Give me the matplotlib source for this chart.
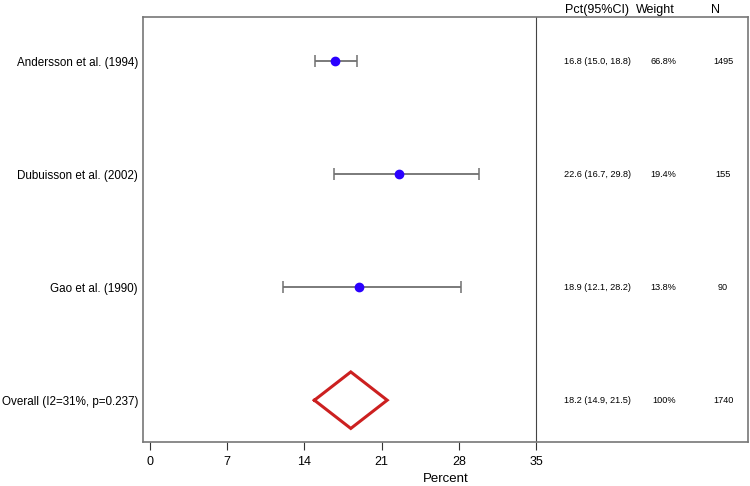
import numpy as np
import matplotlib
matplotlib.use("Agg")
import matplotlib.pyplot as plt
import matplotlib.transforms as mtransforms

plt.rcParams['font.family'] = ['Liberation Sans', 'DejaVu Sans']

# study data
studies = ['Andersson et al. (1994)', 'Dubuisson et al. (2002)', 'Gao et al. (1990)']
pct = [16.8, 22.6, 18.9]
lo = [15.0, 16.7, 12.1]
hi = [18.8, 29.8, 28.2]
weight = ['66.8%', '19.4%', '13.8%']
n = [1495, 155, 90]

overall_label = 'Overall (I2=31%, p=0.237)'
overall = 18.2
overall_lo = 14.9
overall_hi = 21.5
overall_n = 1740

xticks = [0, 7, 14, 21, 28, 35]

fig = plt.figure(figsize=(7.5, 4.86), dpi=100)
ax = fig.add_axes([0.1913, 0.0905, 0.806, 0.8735])

ypos = np.arange(len(studies) + 1, 1, -1)  # 4, 3, 2
err = [np.array(pct) - np.array(lo), np.array(hi) - np.array(pct)]
eb = ax.errorbar(pct, ypos, xerr=err, fmt='o', color='#2a00ff', ms=6,
                 ecolor='#707070', elinewidth=1.3, capsize=4, capthick=1.1, zorder=3)
for cap in eb[1]:
    cap.set_color('#333333')

# overall diamond
yo = 1
dx = [overall_lo, overall, overall_hi, overall, overall_lo]
dy = [yo, yo + 0.25, yo, yo - 0.25, yo]
ax.plot(dx, dy, color='#cc2020', lw=2.2, solid_joinstyle='miter')

ax.axvline(35, color='#444444', lw=0.8)

# right-hand text columns
rows = list(ypos) + [yo]
pct_txt = ['%.1f (%.1f, %.1f)' % (p, a, b) for p, a, b in zip(pct, lo, hi)]
pct_txt.append('%.1f (%.1f, %.1f)' % (overall, overall_lo, overall_hi))
w_txt = weight + ['100%']
n_txt = [str(v) for v in n] + [str(overall_n)]
for y, a, b, c in zip(rows, pct_txt, w_txt, n_txt):
    ax.text(37.55, y, a, fontsize=6.6, ha='left', va='center')
    ax.text(47.7, y, b, fontsize=6.6, ha='right', va='center')
    ax.text(51.95, y, c, fontsize=6.6, ha='center', va='center')

trans = mtransforms.blended_transform_factory(ax.transData, ax.transAxes)
ax.text(40.5, 1.018, 'Pct(95%CI)', transform=trans, fontsize=9, ha='center', va='center')
ax.text(45.8, 1.018, 'Weight', transform=trans, fontsize=9, ha='center', va='center')
ax.text(51.3, 1.018, 'N', transform=trans, fontsize=9, ha='center', va='center')

ax.set_yticks(rows)
ax.set_yticklabels(studies + [overall_label], fontsize=8.4)
ax.tick_params(axis='y', length=0, pad=4)
ax.set_xticks(xticks)
ax.set_xticklabels([str(t) for t in xticks], fontsize=9)
ax.tick_params(axis='x', length=6, width=0.8, color='#333333', pad=4)
ax.set_xlim(-0.59, 54.2)
ax.set_ylim(0.63, 4.385)
ax.set_xlabel('Percent', fontsize=9.5, labelpad=4)

for s in ax.spines.values():
    s.set_color('#777777')
    s.set_linewidth(1.2)

fig.savefig('out.png', dpi=100)
